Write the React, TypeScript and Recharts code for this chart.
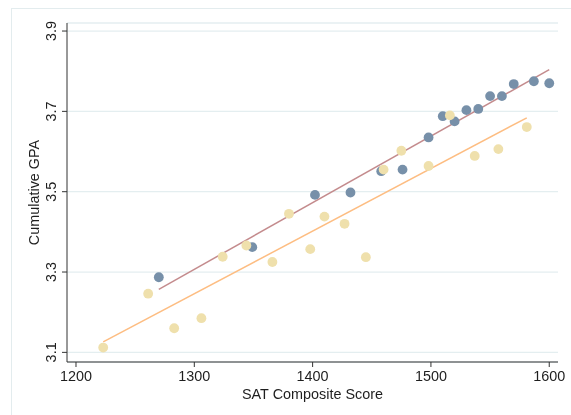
import React from "react";
import {
  ComposedChart,
  Scatter,
  Line,
  XAxis,
  YAxis,
  CartesianGrid,
} from "recharts";

const blueSAT = [1270, 1349, 1402, 1432, 1458, 1476, 1498, 1510, 1520, 1530, 1540, 1550, 1560, 1570, 1587, 1600];
const blueGPA = [3.287, 3.362, 3.492, 3.498, 3.551, 3.555, 3.635, 3.688, 3.675, 3.703, 3.706, 3.738, 3.738, 3.768, 3.775, 3.770];

const yellowSAT = [1223, 1261, 1283, 1306, 1324, 1344, 1366, 1380, 1398, 1410, 1427, 1445, 1460, 1475, 1498, 1516, 1537, 1557, 1581];
const yellowGPA = [3.112, 3.246, 3.160, 3.185, 3.338, 3.366, 3.325, 3.445, 3.357, 3.438, 3.420, 3.337, 3.555, 3.602, 3.564, 3.690, 3.589, 3.606, 3.661];

const blueFitSAT = [1270, 1600];
const blueFitGPA = [3.257, 3.804];
const yellowFitSAT = [1223, 1581];
const yellowFitGPA = [3.126, 3.684];

const xTicks = [1200, 1300, 1400, 1500, 1600];
const yTicks = [3.1, 3.3, 3.5, 3.7, 3.9];

const toPoints = (xs: number[], ys: number[]) => xs.map((x, i) => ({ x, y: ys[i] }));

const blueData = toPoints(blueSAT, blueGPA);
const yellowData = toPoints(yellowSAT, yellowGPA);
const blueFit = toPoints(blueFitSAT, blueFitGPA);
const yellowFit = toPoints(yellowFitSAT, yellowFitGPA);

const FONT = "'Liberation Sans', Arial, sans-serif";

const YTick = (props: any) => {
  const { x, y, payload } = props;
  const cx = x - 9;
  return (
    <text
      x={cx}
      y={y}
      transform={`rotate(-90, ${cx}, ${y})`}
      textAnchor="middle"
      dominantBaseline="central"
      fontSize={14.4}
      fontFamily={FONT}
      fill="#1e1e1e"
    >
      {payload.value.toFixed(1)}
    </text>
  );
};

const XTick = (props: any) => {
  const { x, y, payload } = props;
  return (
    <text x={x} y={y + 12} textAnchor="middle" fontSize={14.4} fontFamily={FONT} fill="#1e1e1e">
      {payload.value}
    </text>
  );
};

const BlueDot = (props: any) => {
  const { cx, cy } = props;
  return <circle cx={cx} cy={cy} r={4.9} fill="#7790a9" />;
};

const YellowDot = (props: any) => {
  const { cx, cy } = props;
  return (
    <circle cx={cx} cy={cy} r={4.9} fill="#efe0ac" style={{ mixBlendMode: "multiply" }} />
  );
};

export default function App() {
  return (
    <div style={{ position: "absolute", left: 0, top: 0, width: 571, height: 415, background: "#fff", overflow: "hidden" }}>
      <div
        style={{
          position: "absolute",
          left: 11,
          top: 8,
          width: 600,
          height: 450,
          borderLeft: "1px solid #e3ecee",
          borderTop: "1px solid #e3ecee",
        }}
      />
      <div style={{ position: "absolute", left: 0, top: 0 }}>
        <ComposedChart
          width={571}
          height={415}
          margin={{ top: 23, right: 13, bottom: 13, left: 0 }}
        >
          <CartesianGrid horizontal vertical={false} stroke="#e4eef0" strokeWidth={1.3} />
          <XAxis
            type="number"
            dataKey="x"
            domain={[1192.4, 1607.4]}
            ticks={xTicks}
            allowDataOverflow
            height={40}
            tickSize={5}
            tick={<XTick />}
            stroke="#333"
            axisLine={{ stroke: "#333" }}
            tickLine={{ stroke: "#333" }}
            label={{
              value: "SAT Composite Score",
              position: "insideBottom",
              offset: 3,
              fontSize: 14.4,
              fontFamily: FONT,
              fill: "#1e1e1e",
            }}
          />
          <YAxis
            type="number"
            dataKey="y"
            domain={[3.076, 3.92]}
            ticks={yTicks}
            allowDataOverflow
            width={67}
            tickSize={5}
            tick={<YTick />}
            stroke="#333"
            label={{
              value: "Cumulative GPA",
              angle: -90,
              position: "insideLeft",
              offset: 34,
              style: { textAnchor: "middle" },
              fontSize: 14.4,
              fontFamily: FONT,
              fill: "#1e1e1e",
            }}
          />
          <Scatter data={blueData} dataKey="y" shape={<BlueDot />} isAnimationActive={false} />
          <Scatter data={yellowData} dataKey="y" shape={<YellowDot />} isAnimationActive={false} />
          <Line
            data={blueFit}
            dataKey="y"
            type="linear"
            stroke="#c48b8d"
            strokeWidth={1.5}
            dot={false}
            activeDot={false}
            isAnimationActive={false}
          />
          <Line
            data={yellowFit}
            dataKey="y"
            type="linear"
            stroke="#fdbd82"
            strokeWidth={1.5}
            dot={false}
            activeDot={false}
            isAnimationActive={false}
          />
        </ComposedChart>
      </div>
    </div>
  );
}
